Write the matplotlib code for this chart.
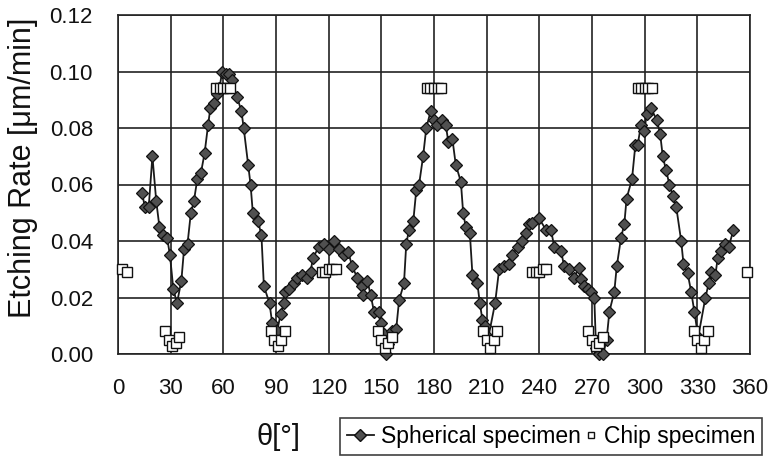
import matplotlib
matplotlib.use("Agg")
import matplotlib.pyplot as plt
from matplotlib.lines import Line2D
from matplotlib.legend_handler import HandlerBase, HandlerLine2D

plt.rcParams['font.family'] = ['Liberation Sans', 'DejaVu Sans']

# Spherical specimen (angle in degrees, etching rate in um/min)
sph_theta = [13.6, 15.4, 17.5, 19.6, 21.8, 23.6, 25.5, 28.0, 29.6, 31.5, 33.6, 36.1,
             37.6, 39.6, 41.5, 43.2, 45.2, 47.2, 49.3, 51.3, 52.6, 54.5, 56.4, 57.8,
             59.3, 61.6, 63.5, 65.0, 67.8, 70.3, 71.6, 74.1, 75.5, 76.8, 79.8, 81.7,
             83.1, 86.3, 87.8, 90.6, 92.6, 94.5, 95.0, 97.3, 100.2, 102.0, 104.9, 107.8,
             109.7, 111.0, 114.5, 117.3, 120.1, 123.0, 125.8, 128.7, 131.2, 133.4, 136.3,
             139.1, 139.5, 142.0, 143.9, 145.8, 148.7, 149.6, 151.5, 152.5, 154.0, 156.2,
             158.5, 160.1, 162.9, 164.2, 165.8, 168.2, 169.9, 171.5, 173.8, 175.6, 178.1,
             180.0, 181.9, 184.4, 186.7, 188.2, 190.5, 192.4, 195.3, 196.6, 198.1, 200.4,
             201.9, 204.7, 206.1, 207.6, 209.1, 211.0, 214.8, 217.1, 220.0, 222.8, 224.7,
             227.6, 230.4, 232.3, 234.2, 236.1, 239.9, 243.7, 246.6, 248.5, 252.3, 254.2,
             257.0, 259.9, 262.4, 263.7, 265.6, 267.5, 269.4, 271.3, 272.3, 274.2, 276.4,
             278.3, 279.9, 282.7, 284.1, 286.5, 288.4, 289.7, 292.8, 294.7, 296.0, 297.9,
             299.8, 301.2, 303.6, 306.8, 308.8, 310.3, 312.2, 314.1, 316.0, 318.0, 320.8,
             322.1, 324.5, 326.5, 328.3, 330.5, 334.6, 336.5, 337.9, 340.3, 341.6, 343.6,
             345.5, 347.9, 350.6]
sph_rate = [0.057, 0.052, 0.052, 0.070, 0.054, 0.045, 0.042, 0.041, 0.035, 0.023, 0.018, 0.026,
            0.037, 0.039, 0.050, 0.054, 0.062, 0.064, 0.071, 0.081, 0.087, 0.089, 0.092, 0.094,
            0.100, 0.099, 0.099, 0.097, 0.091, 0.086, 0.080, 0.067, 0.060, 0.050, 0.047, 0.042,
            0.024, 0.018, 0.011, 0.008, 0.014, 0.018, 0.022, 0.023, 0.025, 0.027, 0.028, 0.027,
            0.029, 0.034, 0.038, 0.039, 0.037, 0.040, 0.037, 0.035, 0.036, 0.031, 0.027,
            0.024, 0.021, 0.026, 0.021, 0.015, 0.015, 0.011, 0.007, 0.000, 0.0035, 0.008,
            0.009, 0.019, 0.025, 0.039, 0.044, 0.047, 0.058, 0.060, 0.070, 0.080, 0.086,
            0.083, 0.081, 0.083, 0.081, 0.075, 0.076, 0.067, 0.061, 0.050, 0.045, 0.043,
            0.028, 0.025, 0.018, 0.012, 0.010, 0.006, 0.018, 0.030, 0.031, 0.032, 0.035,
            0.038, 0.040, 0.043, 0.046, 0.0465, 0.048, 0.044, 0.044, 0.038, 0.0365, 0.031,
            0.030, 0.027, 0.0306, 0.0265, 0.024, 0.023, 0.022, 0.020, 0.002, 0.000, 0.000,
            0.005, 0.015, 0.022, 0.031, 0.041, 0.046, 0.055, 0.062, 0.074, 0.074, 0.081,
            0.079, 0.085, 0.087, 0.083, 0.078, 0.070, 0.065, 0.060, 0.056, 0.052, 0.040,
            0.032, 0.0285, 0.022, 0.015, 0.006, 0.020, 0.025, 0.029, 0.028, 0.034, 0.0365,
            0.039, 0.038, 0.044]

# Chip specimen
chip_theta = [2.0, 5.0,
              27, 29, 31, 33, 35,
              56, 58, 60, 62, 64,
              87, 89, 91, 93, 95,
              116, 118, 120, 122, 124,
              148, 150, 152, 154, 156,
              176, 178, 180, 182, 184,
              208, 210, 212, 214, 216,
              236, 238, 240, 242, 244,
              268, 270, 272, 274, 276,
              296, 298, 300, 302, 304,
              328, 330, 332, 334, 336,
              358.5]
chip_rate = [0.030, 0.029,
             0.008, 0.005, 0.003, 0.004, 0.006,
             0.094, 0.094, 0.094, 0.094, 0.094,
             0.008, 0.005, 0.003, 0.005, 0.008,
             0.029, 0.029, 0.030, 0.030, 0.030,
             0.008, 0.005, 0.002, 0.004, 0.006,
             0.094, 0.094, 0.094, 0.094, 0.094,
             0.008, 0.005, 0.002, 0.005, 0.008,
             0.029, 0.029, 0.029, 0.030, 0.030,
             0.008, 0.005, 0.003, 0.004, 0.006,
             0.094, 0.094, 0.094, 0.094, 0.094,
             0.008, 0.005, 0.002, 0.005, 0.008,
             0.029]

x_ticks = list(range(0, 361, 30))
y_ticks = [0.00, 0.02, 0.04, 0.06, 0.08, 0.10, 0.12]


class HandlerRightMarker(HandlerBase):
    """Legend handler drawing a single marker near the right end of the handle box."""
    def create_artists(self, legend, orig_handle, xdescent, ydescent, width, height,
                       fontsize, trans):
        y = height / 2.0 - ydescent
        x = width - xdescent - 0.25 * fontsize
        m = Line2D([x], [y], ls='none')
        self.update_prop(m, orig_handle, legend)
        m.set_transform(trans)
        return [m]


fig = plt.figure(figsize=(7.7, 4.57), dpi=100)
ax = fig.add_axes([118/770, 1-354/457, (750-118)/770, (354-15)/457])

ax.plot(sph_theta, sph_rate, '-', color='#1a1a1a', lw=1.3, marker='D', markersize=6,
        markerfacecolor='#505050', markeredgecolor='#111111', markeredgewidth=0.9,
        clip_on=False, zorder=3, label='Spherical specimen')
ax.plot(chip_theta, chip_rate, 's', markersize=6.5, markerfacecolor='white',
        markeredgecolor='#111111', markeredgewidth=1.0, clip_on=False, zorder=4,
        label='Chip specimen')

ax.set_xlim(0, 360)
ax.set_ylim(0, 0.12)
ax.set_xticks(x_ticks)
ax.set_yticks(y_ticks)
ax.set_xticklabels([str(t) for t in x_ticks])
ax.set_yticklabels([f"{t:.2f}" for t in y_ticks])
ax.tick_params(axis='both', length=0, labelsize=16, colors='#111111')
ax.tick_params(axis='x', pad=17)
ax.tick_params(axis='y', pad=18)
ax.grid(True, color='#222222', lw=1.2)
ax.set_axisbelow(True)
for s in ax.spines.values():
    s.set_color('#222222')
    s.set_linewidth(1.2)

fig.text(23/770, 1-168/457, 'Etching Rate [μm/min]', rotation=90, ha='center', va='center',
         fontsize=22, color='#111111')
fig.text(279/770, 1-437/457, 'θ[°]', ha='center', va='center', fontsize=21, color='#111111')

h1 = Line2D([], [], color='#1a1a1a', lw=1.3, marker='D', markersize=6,
            markerfacecolor='#505050', markeredgecolor='#111111')
h2 = Line2D([], [], ls='none', marker='s', markersize=5, markerfacecolor='white',
            markeredgecolor='#111111')
leg = fig.legend([h1, h2], ['Spherical specimen', 'Chip specimen'], ncol=2,
                 loc='lower right', bbox_to_anchor=(762/770, 2/457), fontsize=16.5,
                 frameon=True, fancybox=False, edgecolor='#111111', handlelength=1.2,
                 handletextpad=0.3, columnspacing=-0.5, borderpad=0.3, borderaxespad=0,
                 handler_map={h1: HandlerLine2D(marker_pad=0), h2: HandlerRightMarker()})
leg.get_frame().set_linewidth(1.2)

fig.savefig('out.png', dpi=100)
